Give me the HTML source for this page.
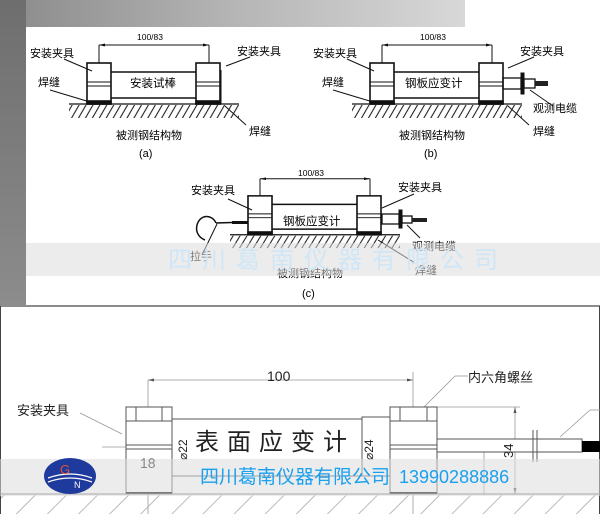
<!DOCTYPE html>
<html><head><meta charset="utf-8"><style>
html,body{margin:0;padding:0;background:#fff}
svg{display:block}
text{font-family:"Liberation Sans","Noto Sans CJK SC",sans-serif}
</style></head><body>
<svg width="600" height="514" viewBox="0 0 600 514" xmlns="http://www.w3.org/2000/svg">
<defs>
<linearGradient id="tg" x1="0" x2="1" y1="0" y2="0">
<stop offset="0" stop-color="#8a8a8a"/><stop offset="0.5" stop-color="#b5b5b5"/><stop offset="1" stop-color="#d8d8d8"/>
</linearGradient>
<linearGradient id="lg" x1="0" x2="0" y1="0" y2="1">
<stop offset="0" stop-color="#6e6e6e"/><stop offset="1" stop-color="#8c8c8c"/>
</linearGradient>
<pattern id="hatch" width="6" height="20" patternUnits="userSpaceOnUse" patternTransform="rotate(30)">
<line x1="1" y1="0" x2="1" y2="20" stroke="#222" stroke-width="1.1"/>
</pattern>
<pattern id="hatch2" width="22" height="20" patternUnits="userSpaceOnUse" patternTransform="rotate(45)">
<line x1="1" y1="0" x2="1" y2="20" stroke="#aaa" stroke-width="0.8"/>
</pattern>
</defs>
<rect x="0" y="0" width="465" height="27" fill="url(#tg)"/>
<rect x="0" y="0" width="26" height="305" fill="url(#lg)"/>
<rect x="26" y="27" width="574" height="278" fill="#fff"/>
<line x1="0" y1="306" x2="600" y2="306" stroke="#666" stroke-width="1.5"/>
<line x1="0.5" y1="306" x2="0.5" y2="514" stroke="#444"/>
<line x1="599.5" y1="306" x2="599.5" y2="514" stroke="#444"/>

<g id="unitA" stroke="#111" fill="none" stroke-width="1.6">
<line x1="99" y1="45" x2="209" y2="45" stroke-width="1"/>
<line x1="99" y1="45" x2="99" y2="63" stroke-width="1"/>
<line x1="209" y1="45" x2="209" y2="63" stroke-width="1"/>
<polygon points="99,45 105,43.5 105,46.5" fill="#111" stroke="none"/>
<polygon points="209,45 203,43.5 203,46.5" fill="#111" stroke="none"/>
<rect x="87" y="63" width="24" height="41" fill="#fff"/>
<rect x="196" y="63" width="24" height="41" fill="#fff"/>
<line x1="87" y1="82" x2="111" y2="82" stroke-width="1"/>
<line x1="87" y1="86" x2="111" y2="86" stroke-width="1"/>
<line x1="196" y1="82" x2="220" y2="82" stroke-width="1"/>
<line x1="196" y1="86" x2="220" y2="86" stroke-width="1"/>
<line x1="111" y1="72" x2="196" y2="72"/>
<line x1="111" y1="98" x2="196" y2="98"/>
<rect x="87" y="101" width="24" height="3" fill="#111"/>
<rect x="196" y="101" width="24" height="3" fill="#111"/>
<line x1="69" y1="104" x2="239" y2="104" stroke-width="1.3"/>
<rect x="69" y="105" width="170" height="13" fill="url(#hatch)" stroke="none"/>
</g>
<g stroke="#111" stroke-width="1" fill="none">
<line x1="221" y1="70" x2="221" y2="104"/>
<line x1="64" y1="59" x2="92" y2="71"/>
<line x1="226" y1="66" x2="250" y2="57"/>
<line x1="50" y1="90" x2="90" y2="102"/>
<line x1="225" y1="106" x2="246" y2="125"/>
</g>
<g font-size="11" fill="#000">
<text x="30" y="57">安装夹具</text>
<text x="38" y="86">焊缝</text>
<text x="130" y="87" font-size="11.5">安装试棒</text>
<text x="237" y="55">安装夹具</text>
<text x="249" y="135">焊缝</text>
<text x="116" y="139">被测钢结构物</text>
<text x="139" y="157">(a)</text>
<text x="137" y="40" font-size="8.5">100/83</text>
</g>

<use href="#unitA" transform="translate(283,0)"/>
<g stroke="#111" stroke-width="1" fill="none">
<line x1="347" y1="59" x2="374" y2="71"/>
<line x1="508" y1="68" x2="534" y2="57"/>
<line x1="333" y1="90" x2="373" y2="102"/>
<line x1="508" y1="106" x2="529" y2="125"/>
<line x1="530" y1="90" x2="553" y2="106"/>
<rect x="503" y="78" width="18" height="11" stroke-width="1.3"/>
<rect x="521" y="73" width="3" height="21" fill="#111"/>
<rect x="524" y="79" width="11" height="9" stroke-width="1.3"/>
</g>
<rect x="535" y="81" width="13" height="5" fill="#222"/>
<g font-size="11" fill="#000">
<text x="313" y="57">安装夹具</text>
<text x="322" y="86">焊缝</text>
<text x="405" y="87" font-size="11.5">钢板应变计</text>
<text x="520" y="55">安装夹具</text>
<text x="533" y="112">观测电缆</text>
<text x="533" y="135">焊缝</text>
<text x="399" y="139">被测钢结构物</text>
<text x="424" y="157">(b)</text>
<text x="420" y="40" font-size="8.5">100/83</text>
</g>

<use href="#unitA" transform="translate(161,136) scale(1,0.95)"/>
<g stroke="#111" stroke-width="1" fill="none">
<line x1="228" y1="199" x2="252" y2="210"/>
<line x1="382" y1="208" x2="414" y2="194"/>
<rect x="382" y="214" width="17" height="10" stroke-width="1.3"/>
<rect x="399" y="210" width="3" height="18" fill="#111"/>
<rect x="402" y="216" width="10" height="7" stroke-width="1.3"/>
<line x1="407" y1="225" x2="420" y2="238"/>
<line x1="378" y1="240" x2="415" y2="263"/>
<path d="M216,223 C212,214 200,214 197,225 C195,233 200,238 205,240" stroke-width="1.5"/>
<line x1="216" y1="223" x2="248" y2="222" stroke-width="1.5"/>
<line x1="217" y1="224" x2="202" y2="255"/>
</g>
<rect x="232" y="221" width="16" height="3" fill="#111"/>
<rect x="412" y="218" width="15" height="4" fill="#222"/>
<g font-size="11" fill="#000">
<text x="191" y="194">安装夹具</text>
<text x="398" y="191">安装夹具</text>
<text x="283" y="225" font-size="11.5">钢板应变计</text>
<text x="412" y="250">观测电缆</text>
<text x="190" y="260">拉手</text>
<text x="415" y="274">焊缝</text>
<text x="277" y="277">被测钢结构物</text>
<text x="302" y="297">(c)</text>
<text x="298" y="176" font-size="8.5">100/83</text>
</g>
<rect x="26" y="243" width="574" height="33" fill="#ddd" opacity="0.55"/>
<text x="168" y="268" font-size="24" fill="#cfe6f7" letter-spacing="10">四川葛南仪器有限公司</text>

<g stroke="#999" stroke-width="0.8" fill="none">
<line x1="148" y1="380" x2="148" y2="514"/>
<line x1="413" y1="372" x2="413" y2="514"/>
<line x1="148" y1="380" x2="413" y2="380"/>
<line x1="102" y1="447" x2="600" y2="447"/>
<line x1="437" y1="407" x2="520" y2="407"/>
<line x1="515" y1="407" x2="515" y2="494"/>
<line x1="484" y1="446" x2="484" y2="494"/>
<line x1="188" y1="420" x2="188" y2="476"/>
<line x1="455" y1="376" x2="468" y2="376"/>
<line x1="455" y1="376" x2="416" y2="415"/>
<line x1="80" y1="413" x2="122" y2="434"/>
<line x1="135" y1="461" x2="168" y2="461"/>
<line x1="560" y1="437" x2="590" y2="410"/>
<line x1="590" y1="410" x2="600" y2="410"/>
</g>
<g fill="#555">
<polygon points="148,380 154,378.5 154,381.5"/>
<polygon points="413,380 407,378.5 407,381.5"/>
<polygon points="515,407 513.5,413 516.5,413"/>
<polygon points="515,494 513.5,488 516.5,488"/>
<polygon points="188,420 186.5,426 189.5,426"/>
</g>
<g stroke="#555" stroke-width="1" fill="#fff">
<rect x="126" y="407" width="46" height="87"/>
<rect x="136" y="407" width="26" height="14" fill="none"/>
<line x1="126" y1="421" x2="172" y2="421"/>
<rect x="126" y="445" width="46" height="4" fill="none"/>
<rect x="172" y="419" width="190" height="57"/>
<rect x="362" y="417" width="28" height="59"/>
<rect x="390" y="407" width="47" height="87"/>
<rect x="400" y="407" width="27" height="14" fill="none"/>
<line x1="390" y1="421" x2="437" y2="421"/>
<rect x="390" y="445" width="47" height="4" fill="none"/>
<rect x="437" y="439" width="145" height="13"/>
<line x1="533" y1="430" x2="533" y2="462"/>
<line x1="537" y1="430" x2="537" y2="462"/>
</g>
<rect x="582" y="441" width="18" height="11" fill="#000"/>
<rect x="126" y="492" width="46" height="2.5" fill="#000"/>
<rect x="390" y="492" width="47" height="2.5" fill="#000"/>
<g fill="#222">
<text x="267" y="381" font-size="14" font-family="Liberation Serif">100</text>
<text x="140" y="468" font-size="14" font-family="Liberation Serif">18</text>
<text x="195" y="450" font-size="24" font-family="Liberation Serif,'Noto Serif CJK SC',serif" letter-spacing="8">表面应变计</text>
<text transform="translate(187,460) rotate(-90)" font-size="12" font-family="Liberation Serif">⌀22</text>
<text transform="translate(373,460) rotate(-90)" font-size="12" font-family="Liberation Serif">⌀24</text>
<text transform="translate(513,458) rotate(-90)" font-size="13" font-family="Liberation Serif">34</text>
<text x="468" y="382" font-size="13" font-family="Liberation Serif,'Noto Serif CJK SC',serif">内六角螺丝</text>
<text x="17" y="415" font-size="13" font-family="Liberation Serif,'Noto Serif CJK SC',serif">安装夹具</text>
</g>
<line x1="0" y1="494" x2="600" y2="494" stroke="#666"/>
<rect x="1" y="495" width="598" height="19" fill="url(#hatch2)"/>
<rect x="0" y="459" width="600" height="37" fill="#dcdcdc" opacity="0.55"/>
<ellipse cx="70" cy="476" rx="26" ry="18" fill="#1d3a9c"/>
<path d="M48,478 Q70,470 92,478 M48,482 Q70,474 92,482" stroke="#fff" stroke-width="1.2" fill="none"/>
<text x="60" y="474" font-size="13" fill="#e4502c">G</text>
<text x="74" y="488" font-size="9" fill="#fff">N</text>
<text x="200" y="483" font-size="19" fill="#1aa0ef">四川葛南仪器有限公司</text>
<text x="399" y="483" font-size="18" fill="#1aa0ef">13990288886</text>
</svg>
</body></html>
